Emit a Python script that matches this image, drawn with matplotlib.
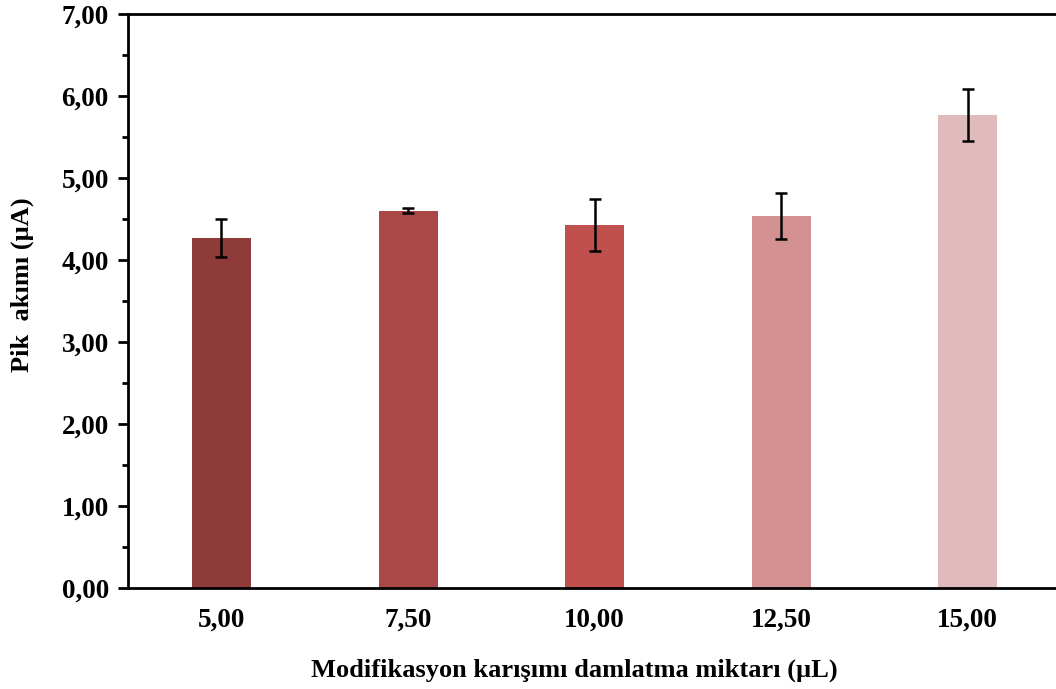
import matplotlib
matplotlib.use("Agg")
import matplotlib.pyplot as plt
from matplotlib.ticker import MultipleLocator, FuncFormatter

# Drop volume of the modification mixture (µL) and the resulting peak current (µA)
categories = ["5,00", "7,50", "10,00", "12,50", "15,00"]
peak_current = [4.27, 4.60, 4.43, 4.54, 5.77]
peak_error = [0.23, 0.03, 0.32, 0.28, 0.32]
bar_colors = ["#8E3B39", "#A94846", "#C0504D", "#D39191", "#E0BBBB"]

plt.rcParams["font.family"] = ["Liberation Serif", "DejaVu Serif"]
plt.rcParams["font.weight"] = "bold"

fig = plt.figure(figsize=(10.56, 6.89), dpi=100)
W, H = 1056, 689
left, right, top, bottom = 128.2, 1061, 14, 588
ax = fig.add_axes([left / W, 1 - bottom / H, (right - left) / W, (bottom - top) / H])

x = list(range(len(categories)))
ax.bar(x, peak_current, width=0.316, color=bar_colors, zorder=2)
ax.errorbar(x, peak_current, yerr=peak_error, fmt="none", ecolor="black",
            elinewidth=1.8, capsize=4.6, capthick=1.8, zorder=3)

ax.set_xlim(-0.5, 4.5)
ax.set_ylim(0, 7)
ax.set_xticks(x)
ax.set_xticklabels(categories)
ax.yaxis.set_major_locator(MultipleLocator(1))
ax.yaxis.set_minor_locator(MultipleLocator(0.5))
ax.yaxis.set_major_formatter(FuncFormatter(lambda v, p: f"{v:.2f}".replace(".", ",")))

for side in ["left", "bottom", "top"]:
    ax.spines[side].set_linewidth(2)
    ax.spines[side].set_color("black")
ax.spines["right"].set_visible(False)

ax.tick_params(axis="y", which="major", direction="out", length=7, width=2,
               labelsize=19.5, pad=7)
ax.tick_params(axis="y", which="minor", direction="out", length=4, width=2)
ax.tick_params(axis="x", which="both", length=0, labelsize=19.5, pad=14)
for lbl in ax.get_xticklabels() + ax.get_yticklabels():
    lbl.set_fontweight("bold")

ax.set_xlabel("Modifikasyon karışımı damlatma miktarı (µL)", fontsize=19,
              fontweight="bold", labelpad=19)
ax.set_ylabel("Pik  akımı (µA)", fontsize=19, fontweight="bold", labelpad=20)
ax.xaxis.label.set_x(0.4785)
ax.yaxis.label.set_y(0.528)

fig.savefig("out.png", dpi=100)
